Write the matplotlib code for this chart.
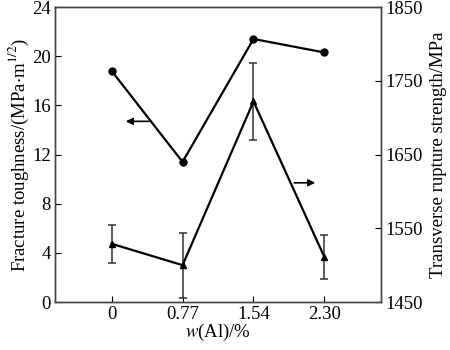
import matplotlib
matplotlib.use('Agg')
import matplotlib.pyplot as plt
import numpy as np

plt.rcParams['font.family'] = 'Liberation Serif'
plt.rcParams['mathtext.fontset'] = 'stix'

al_labels = ['0', '0.77', '1.54', '2.30']
toughness = [18.8, 11.4, 21.4, 20.3]
strength = [1529, 1500, 1722, 1511]
strength_err = [26, 44, 52, 30]

x = np.arange(len(al_labels))

fig = plt.figure(figsize=(4.5, 3.5), dpi=100)
ax = fig.add_axes([0.122, 0.137, 0.725, 0.843])
ax2 = ax.twinx()

ax.plot(x, toughness, color='black', lw=1.6, marker='o', ms=5)
ax2.errorbar(x, strength, yerr=strength_err, color='black', lw=1.6,
             marker='^', ms=5, ecolor='#333333', elinewidth=1.1,
             capsize=3, capthick=1.1)

ax.set_xlim(-0.8, 3.8)
ax.set_ylim(0, 24)
ax.set_yticks(np.arange(0, 25, 4))
ax2.set_ylim(1450, 1850)
ax2.set_yticks(np.arange(1450, 1851, 100))
ax.set_xticks(x)
ax.set_xticklabels(al_labels)

fs = 13.5
for a in (ax, ax2):
    a.tick_params(direction='in', length=4, labelsize=fs, pad=3)
    for s in a.spines.values():
        s.set_color('#444444')
        s.set_linewidth(1.0)

ax.set_xlabel('$\\it{w}$(Al)/%', fontsize=fs, labelpad=-1)
ax.set_ylabel('Fracture toughness/(MPa$\\cdot$m$^{1/2}$)', fontsize=fs, labelpad=1)
ax2.set_ylabel('Transverse rupture strength/MPa', fontsize=fs, labelpad=5)

# arrows pointing to the matching axis
ax.annotate('', xy=(0.16, 14.7), xytext=(0.565, 14.7),
            arrowprops=dict(arrowstyle='-|>', color='black', lw=1.2,
                            mutation_scale=10))
ax.annotate('', xy=(2.91, 9.7), xytext=(2.535, 9.7),
            arrowprops=dict(arrowstyle='-|>', color='black', lw=1.2,
                            mutation_scale=10))

fig.savefig('out.png', dpi=100)
